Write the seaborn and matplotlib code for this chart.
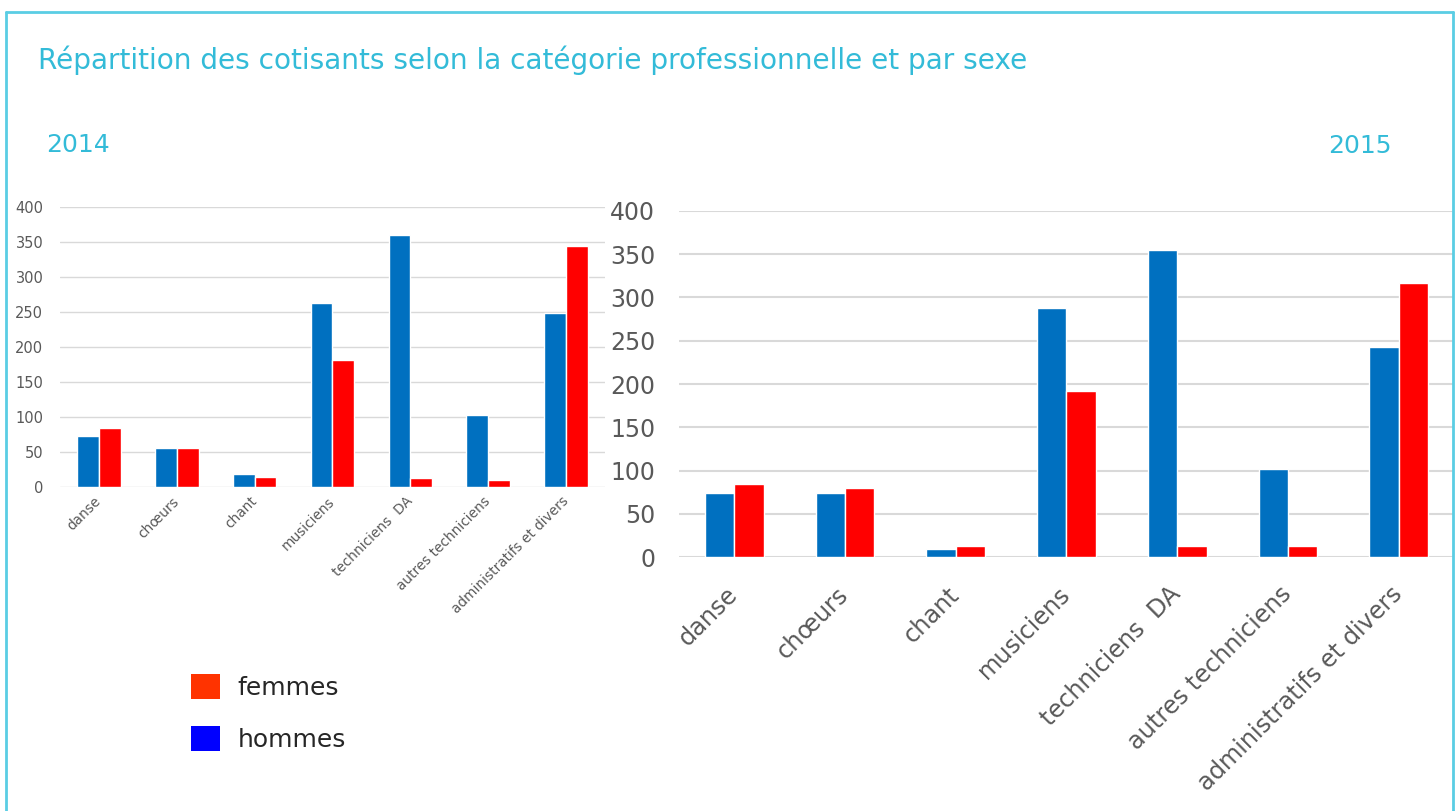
import pandas as pd
import numpy as np
import matplotlib.pyplot as plt
import seaborn as sns
from matplotlib.patches import Patch
from matplotlib.lines import Line2D

sns.set_theme(style="white")
plt.rcParams["font.family"] = ["DejaVu Sans"]

# =========================
# DONNEES
# =========================
categories = ["danse", "chœurs", "chant", "musiciens", "techniciens  DA",
              "autres techniciens", "administratifs et divers"]
hommes_2014 = [72, 55, 18, 263, 360, 103, 248]
femmes_2014 = [84, 55, 14, 181, 12, 10, 344]
hommes_2015 = [74, 74, 10, 288, 355, 102, 243]
femmes_2015 = [85, 80, 13, 192, 13, 13, 317]
y_ticks = [0, 50, 100, 150, 200, 250, 300, 350, 400]

cyan = "#33BBD8"
border = "#5ACDE4"
gris = "#595959"
bar_colors = {"hommes": "#0070C0", "femmes": "#FF0000"}


def long_df(h, f):
    return pd.DataFrame({
        "categorie": categories * 2,
        "sexe": ["hommes"] * len(categories) + ["femmes"] * len(categories),
        "cotisants": h + f,
    })


df14 = long_df(hommes_2014, femmes_2014)
df15 = long_df(hommes_2015, femmes_2015)

fig = plt.figure(figsize=(14.56, 8.11), dpi=100)
ax1 = fig.add_axes([0.0412, 0.3999, 0.3743, 0.3452])
ax2 = fig.add_axes([0.4663, 0.3128, 0.5323, 0.4274])


def draw(ax, df, width, ysize, xsize, ypad, xpad, lw):
    sns.barplot(data=df, x="categorie", y="cotisants", hue="sexe",
                order=categories, hue_order=["hommes", "femmes"],
                palette=bar_colors, saturation=1, width=width,
                edgecolor="white", linewidth=1, legend=False, ax=ax, zorder=3)
    ax.set_ylim(0, 400)
    ax.set_yticks(y_ticks)
    ax.yaxis.grid(True, color="#D9D9D9", linewidth=lw, zorder=0)
    ax.set_axisbelow(True)
    for s in ax.spines.values():
        s.set_visible(False)
    ax.set_xlabel("")
    ax.set_ylabel("")
    ax.tick_params(axis="y", length=0, pad=ypad, labelsize=ysize, labelcolor=gris)
    ax.tick_params(axis="x", length=0, pad=xpad, labelsize=xsize, labelcolor=gris)
    for lab in ax.get_xticklabels():
        lab.set_rotation(45)
        lab.set_ha("right")
        lab.set_va("center")
        lab.set_rotation_mode("anchor")


draw(ax1, df14, 0.56, 10.5, 9.8, 12, 9, 1.0)
draw(ax2, df15, 0.53, 17, 17.3, 17, 24, 1.5)

# titres
fig.text(38 / 1456, 1 - 60 / 811, "Répartition des cotisants selon la catégorie professionnelle et par sexe",
         color=cyan, fontsize=20.2, va="center", ha="left")
fig.text(46 / 1456, 1 - 145 / 811, "2014", color=cyan, fontsize=18, va="center", ha="left")
fig.text(1328 / 1456, 1 - 146 / 811, "2015", color=cyan, fontsize=18, va="center", ha="left")

# légende
handles = [Patch(facecolor="#FF3300", edgecolor="none"),
           Patch(facecolor="#0000FF", edgecolor="none")]
fig.legend(handles, ["femmes", "hommes"], loc="upper left",
           bbox_to_anchor=(181 / 1456, 1 - 664 / 811), frameon=False,
           fontsize=18, handlelength=1.15, handleheight=1.15,
           handletextpad=0.7, labelspacing=1.05, borderaxespad=0)

# cadre
fig.add_artist(Line2D([6 / 1456, 6 / 1456], [0, 1 - 12 / 811], color=border, lw=2))
fig.add_artist(Line2D([6 / 1456, 1453 / 1456], [1 - 12 / 811, 1 - 12 / 811], color=border, lw=2))
fig.add_artist(Line2D([1453 / 1456, 1453 / 1456], [0, 1 - 12 / 811], color=border, lw=2))

fig.savefig("out.png", dpi=100)
